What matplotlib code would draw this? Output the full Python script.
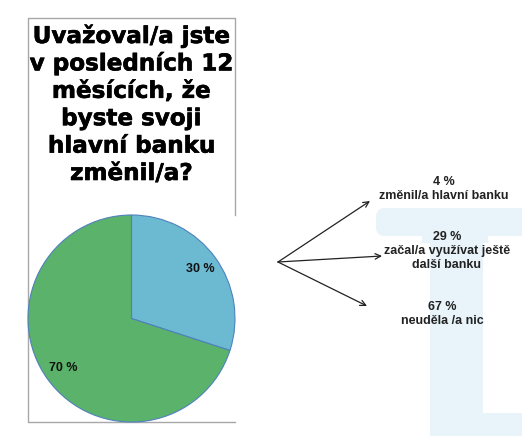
import numpy as np
import matplotlib
matplotlib.use("Agg")
import matplotlib.pyplot as plt
import matplotlib.patheffects as pe
from matplotlib.patches import Rectangle, FancyBboxPatch

# data
title_lines = ["Uvažoval/a jste", "v posledních 12", "měsících, že",
               "byste svoji", "hlavní banku", "změnil/a?"]
pie_values = [30, 70]
pie_colors = ["#6BBAD2", "#5BB26A"]
arrow_pcts = ["4 %", "29 %", "67 %"]
arrow_labels = ["změnil/a hlavní banku", "začal/a využívat ještě\ndalší banku", "neuděla /a nic"]

W, H = 522, 436
fig = plt.figure(figsize=(W / 100, H / 100), dpi=100)
fig.patch.set_facecolor("white")

# background axes in pixel coordinates
ax = fig.add_axes([0, 0, 1, 1])
ax.set_xlim(0, W)
ax.set_ylim(H, 0)
ax.axis("off")

# faint watermark letter
wm = "#E8F4F9"
ax.add_patch(FancyBboxPatch((376, 208), 160, 28, boxstyle="round,pad=0,rounding_size=9",
                            fc=wm, ec="none", zorder=0))
ax.add_patch(Rectangle((430, 215), 53, 230, fc=wm, ec="none", zorder=0))
ax.add_patch(Rectangle((422, 225), 66, 18, fc=wm, ec="none", zorder=0))
ax.add_patch(FancyBboxPatch((472, 413), 70, 30, boxstyle="round,pad=0,rounding_size=8",
                            fc=wm, ec="none", zorder=0))
ax.add_patch(Rectangle((430, 420), 100, 20, fc=wm, ec="none", zorder=0))

# grey frame around title + pie
frame = "#A8A8A8"
ax.plot([235, 235, 28, 28, 235], [215, 18, 18, 422, 422], color=frame, lw=1.0, zorder=1)

# title
for i, line in enumerate(title_lines):
    ax.text(131, 43 + 27.4 * i, line, ha="center", va="baseline",
            fontsize=16.6, fontweight="bold", family="DejaVu Sans", color="black",
            path_effects=[pe.withStroke(linewidth=0.45, foreground="black")])

# arrows
origin = (278, 262)
tips = [(370, 201), (382, 256), (367, 306)]
for t in tips:
    ax.annotate("", xy=t, xytext=origin,
                arrowprops=dict(arrowstyle="->", color="#222222", lw=0.9,
                                mutation_scale=10, shrinkA=0, shrinkB=0))

label_pos = [(444, 189), (447, 251), (442, 314)]
for (x, y), p, lab in zip(label_pos, arrow_pcts, arrow_labels):
    ax.text(x, y, p + "\n" + lab, ha="center", va="center", fontsize=9,
            fontweight="bold", family="Liberation Sans", color="#222222",
            linespacing=1.2)

# pie
cx, cy, r = 131.5, 318.5, 103.5
ax_pie = fig.add_axes([(cx - r) / W, (H - cy - r) / H, 2 * r / W, 2 * r / H])
wedges, texts, autotexts = ax_pie.pie(
    pie_values, colors=pie_colors, startangle=90, counterclock=False,
    autopct=lambda p: f"{p:.0f} %", pctdistance=0.82,
    wedgeprops=dict(edgecolor="#4F81BD", linewidth=0.8))
for t in autotexts:
    t.set_fontsize(9)
    t.set_fontweight("bold")
    t.set_family("Liberation Sans")
    t.set_color("#111111")
ax_pie.set_xlim(-1, 1)
ax_pie.set_ylim(-1, 1)
ax_pie.set_aspect("equal")

fig.savefig("out.png", dpi=100, facecolor="white")
